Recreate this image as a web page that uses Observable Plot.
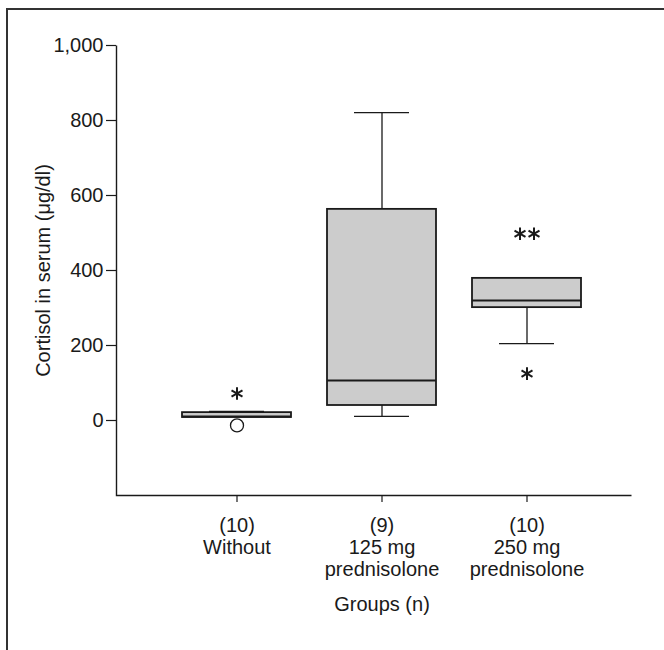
<!DOCTYPE html>
<html>
<head>
<meta charset="utf-8">
<script src="https://cdn.jsdelivr.net/npm/d3@7"></script>
<script src="https://cdn.jsdelivr.net/npm/@observablehq/plot@0.6"></script>
<style>
  html, body { margin: 0; padding: 0; background: #fff; }
  #wrap { position: relative; width: 664px; height: 650px; overflow: hidden; }
  #border { position: absolute; left: 6px; top: 8px; width: 700px; height: 700px;
            border-left: 2px solid #333; border-top: 2px solid #333; pointer-events: none; }
  #chart { position: absolute; left: 0; top: 0; }
</style>
</head>
<body>
<div id="wrap"><div id="chart"></div><div id="border"></div></div>
<script>
// ---- data ----
const groups = ["Without", "125 mg\nprednisolone", "250 mg\nprednisolone"];
const groupN = [10, 9, 10];
const whiskerLow = [8, 11, 205];
const q1 = [8, 40, 301];
const median = [11, 107, 320];
const q3 = [21, 563, 379];
const whiskerHigh = [24, 821, 379];

const outlierGroups = ["Without"];
const outlierValues = [-13];

const starGroups = ["Without", "250 mg\nprednisolone", "250 mg\nprednisolone"];
const starValues = [72, 498, 125];
const starCounts = [1, 2, 1];

const yTicks = [0, 200, 400, 600, 800, 1000];
const yLabel = "Cortisol in serum (\u03bcg/dl)";
const xLabel = "Groups (n)";

// ---- tables built from the arrays ----
const boxes = groups.map((g, i) => ({
  group: g, n: groupN[i], lo: whiskerLow[i], q1: q1[i], med: median[i], q3: q3[i], hi: whiskerHigh[i]
}));
const outliers = outlierGroups.map((g, i) => ({group: g, value: outlierValues[i]}));
const stars = starGroups.map((g, i) => ({group: g, value: starValues[i], count: starCounts[i]}));
const nOf = new Map(groups.map((g, i) => [g, groupN[i]]));

const ink = "#1a1a1a";
const font = "'Liberation Sans', Arial, Helvetica, sans-serif";
const W = 664, H = 650, mL = 116, mR = 33, mT = 45, mB = 155;
const fw = W - mL - mR, fh = H - mT - mB;

const chart = Plot.plot({
  width: W,
  height: H,
  marginLeft: mL,
  marginRight: mR,
  marginTop: mT,
  marginBottom: mB,
  style: {fontFamily: font, fontSize: "20px", color: ink, background: "transparent"},
  x: {type: "band", domain: groups, range: [181, 582], paddingInner: 0.25, paddingOuter: 0, label: null},
  y: {domain: [-200, 1000], label: null},
  marks: [
    // left + bottom axis lines (frame stroked only on its bottom and left sides)
    Plot.frame({stroke: ink, strokeWidth: 1.4, strokeDasharray: `0 ${fw + fh} ${fw + fh}`}),
    Plot.axisY({ticks: yTicks, tickSize: 10, tickPadding: 3, tickFormat: d3.format(","),
                fontSize: 20, stroke: ink, strokeWidth: 1.2, label: null}),
    Plot.axisX({tickSize: 7, tickPadding: 14, fontSize: 20, lineHeight: 1.1, stroke: ink, strokeWidth: 1.2,
                label: null, tickFormat: (d) => `(${nOf.get(d)})\n${d}`}),
    // whiskers
    Plot.ruleX(boxes.filter(d => d.hi > d.q3), {x: "group", y1: "q3", y2: "hi", stroke: ink, strokeWidth: 1.3}),
    Plot.ruleX(boxes.filter(d => d.lo < d.q1), {x: "group", y1: "lo", y2: "q1", stroke: ink, strokeWidth: 1.3}),
    Plot.tickY(boxes.filter(d => d.hi > d.q3), {x: "group", y: "hi", insetLeft: 27, insetRight: 27, stroke: ink, strokeWidth: 1.3}),
    Plot.tickY(boxes.filter(d => d.lo < d.q1), {x: "group", y: "lo", insetLeft: 27, insetRight: 27, stroke: ink, strokeWidth: 1.3}),
    // boxes
    Plot.barY(boxes, {x: "group", y1: "q1", y2: "q3", fill: "#cccccc", stroke: ink, strokeWidth: 1.8}),
    Plot.tickY(boxes, {x: "group", y: "med", stroke: ink, strokeWidth: 2}),
    // outlier
    Plot.dot(outliers, {x: "group", y: "value", r: 6.5, fill: "white", stroke: ink, strokeWidth: 1.3}),
    // significance asterisks
    Plot.dot(stars.filter(d => d.count === 1), {x: "group", y: "value", symbol: "asterisk", r: 6, stroke: ink, strokeWidth: 2}),
    Plot.dot(stars.filter(d => d.count === 2), {x: "group", y: "value", symbol: "asterisk", r: 6, dx: -7, stroke: ink, strokeWidth: 2}),
    Plot.dot(stars.filter(d => d.count === 2), {x: "group", y: "value", symbol: "asterisk", r: 6, dx: 7, stroke: ink, strokeWidth: 2}),
    // axis titles
    Plot.text([yLabel], {text: d => d, frameAnchor: "left", textAnchor: "middle", rotate: -90, dx: -73, fontSize: 20, fill: ink}),
    Plot.text([xLabel], {text: d => d, x: () => groups[1], frameAnchor: "bottom", dy: 115, fontSize: 20, fill: ink})
  ]
});
document.getElementById("chart").appendChild(chart);
</script>
</body>
</html>
